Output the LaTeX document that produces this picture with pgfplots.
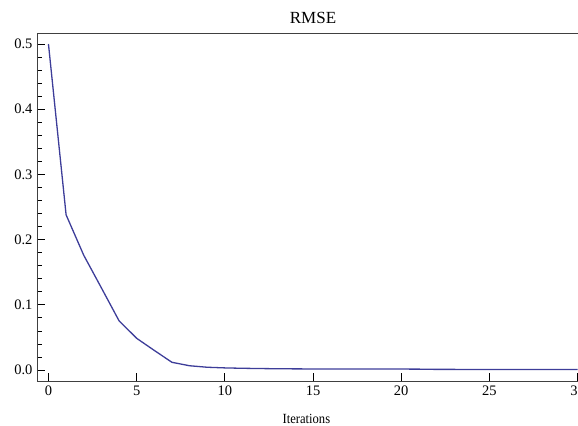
\documentclass[border=0pt]{standalone}
\usepackage{pgfplots}
\pgfplotsset{compat=1.18}
\usepackage{fontspec}
\setmainfont{Liberation Serif}
\newfontfamily\labelfont{Liberation Serif}[FakeStretch=0.9]
\definecolor{mmablue}{rgb}{0.24,0.24,0.6}
\definecolor{framegray}{gray}{0.25}
\begin{document}
\begin{tikzpicture}
\begin{axis}[
  at={(0,0)}, anchor=south west,
  scale only axis,
  width=552bp, height=348bp,
  xmin=-0.65, xmax=30.65,
  ymin=-0.0169, ymax=0.5169,
  axis line style={framegray, line width=0.9bp},
  xtick={0,5,10,15,20,25,30},
  ytick={0,0.1,0.2,0.3,0.4,0.5},
  minor y tick num=4,
  xtick pos=bottom, ytick pos=left,
  tick align=inside,
  major tick length=8bp, minor tick length=5bp,
  tick style={black, line width=0.7bp},
  /pgf/number format/assume math mode=true,
  yticklabel style={/pgf/number format/fixed, /pgf/number format/fixed zerofill, /pgf/number format/precision=1, font=\fontsize{14.5bp}{16bp}\selectfont, xshift=-1bp},
  xticklabel style={font=\fontsize{14.5bp}{16bp}\selectfont, yshift=-1bp},
  title={RMSE},
  title style={at={(0.5,1)}, anchor=base, yshift=4bp, font=\fontsize{17bp}{19bp}\selectfont},
  xlabel={Iterations},
  xlabel style={at={(axis description cs:0.488,0)}, anchor=base, yshift=-42bp, font=\labelfont\fontsize{14bp}{16bp}\selectfont},
]
\addplot[color=mmablue, line width=1.3bp, line join=round] coordinates {
(0,0.500) (1,0.238) (2,0.176) (3,0.126) (4,0.0756) (5,0.0486) (6,0.030) (7,0.0118)
(8,0.0065) (9,0.0042) (10,0.0032) (11,0.0026) (12,0.0022) (13,0.0019) (14,0.0017)
(15,0.0016) (16,0.0015) (17,0.0015) (18,0.0014) (19,0.0014) (20,0.0014) (21,0.0013)
(22,0.0009) (23,0.0009) (24,0.0008) (25,0.0008) (26,0.0008) (27,0.0008) (28,0.0007)
(29,0.0007) (30,0.0007)
};
\end{axis}
\pgfresetboundingbox
\useasboundingbox (-37bp,-45bp) rectangle (541bp,381bp);
\end{tikzpicture}
\end{document}
